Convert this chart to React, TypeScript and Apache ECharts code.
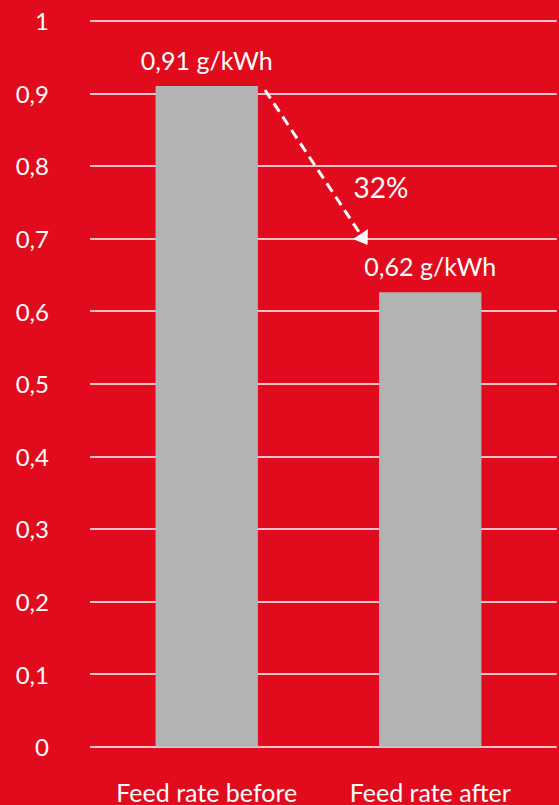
import React, { useEffect, useRef } from "react";
import * as echarts from "echarts";

const categories = ["Feed rate before", "Feed rate after"];
const values = [0.91, 0.626];
const barLabels = ["0,91 g/kWh", "0,62 g/kWh"];
const yTicks = { min: 0, max: 1, interval: 0.1 };
const reductionText = "32%";

const RED = "#E20A1D";
const GRAY = "#B3B3B3";
const FONT = "Lato, 'Noto Sans', sans-serif";

export default function App() {
  const ref = useRef<HTMLDivElement>(null);
  useEffect(() => {
    if (!ref.current) return;
    const chart = echarts.init(ref.current, null, { renderer: "svg" });
    const fmt = (v: number) => String(Math.round(v * 10) / 10).replace(".", ",");
    chart.setOption({
      animation: false,
      backgroundColor: RED,
      textStyle: { fontFamily: FONT },
      grid: [
        { left: 95, right: 17, top: 20.7, bottom: 58.3 },
        { left: 90, right: 2.3, top: 20.7, bottom: 58.3 },
      ],
      xAxis: [
        {
          type: "category",
          gridIndex: 0,
          data: categories,
          axisLine: { show: false },
          axisTick: { show: false },
          axisLabel: {
            color: "#fff",
            fontSize: 25,
            fontFamily: FONT,
            margin: 33,
            interval: 0,
            hideOverlap: false,
          },
        },
        {
          type: "category",
          gridIndex: 1,
          data: categories,
          show: false,
        },
      ],
      yAxis: [
        {
          type: "value",
          gridIndex: 0,
          min: yTicks.min,
          max: yTicks.max,
          interval: yTicks.interval,
          axisLabel: { show: false },
          axisLine: { show: false },
          axisTick: { show: false },
          splitLine: { show: false },
        },
        {
          type: "value",
          gridIndex: 1,
          min: yTicks.min,
          max: yTicks.max,
          interval: yTicks.interval,
          axisLine: { show: false },
          axisTick: { show: false },
          axisLabel: {
            color: "#fff",
            fontSize: 24,
            fontFamily: FONT,
            margin: 41,
            formatter: fmt,
          },
          splitLine: { show: true, lineStyle: { color: "#fff", width: 1.5 } },
        },
      ],
      series: [
        {
          type: "bar",
          xAxisIndex: 0,
          yAxisIndex: 0,
          data: values,
          barWidth: "45.8%",
          itemStyle: { color: GRAY },
          label: {
            show: true,
            position: "top",
            distance: 14,
            color: "#fff",
            fontSize: 25,
            fontFamily: FONT,
            formatter: (p: any) => barLabels[p.dataIndex],
          },
        },
      ],
      graphic: [
        {
          type: "line",
          shape: { x1: 265, y1: 90, x2: 360.4, y2: 234.1 },
          style: { stroke: "#fff", lineWidth: 3, lineDash: [10, 6] },
          z: 10,
        },
        {
          type: "polygon",
          shape: {
            points: [
              [367.5, 245],
              [352.9, 239.1],
              [367.9, 229.2],
            ],
          },
          style: { fill: "#fff" },
          z: 10,
        },
        {
          type: "text",
          x: 381,
          y: 187,
          style: {
            text: reductionText,
            fill: "#fff",
            fontSize: 28,
            fontFamily: FONT,
            textAlign: "center",
            textVerticalAlign: "middle",
          },
          z: 10,
        },
      ],
    });
    return () => chart.dispose();
  }, []);
  return (
    <div
      ref={ref}
      style={{ position: "fixed", left: 0, top: 0, width: 559, height: 805 }}
    />
  );
}
